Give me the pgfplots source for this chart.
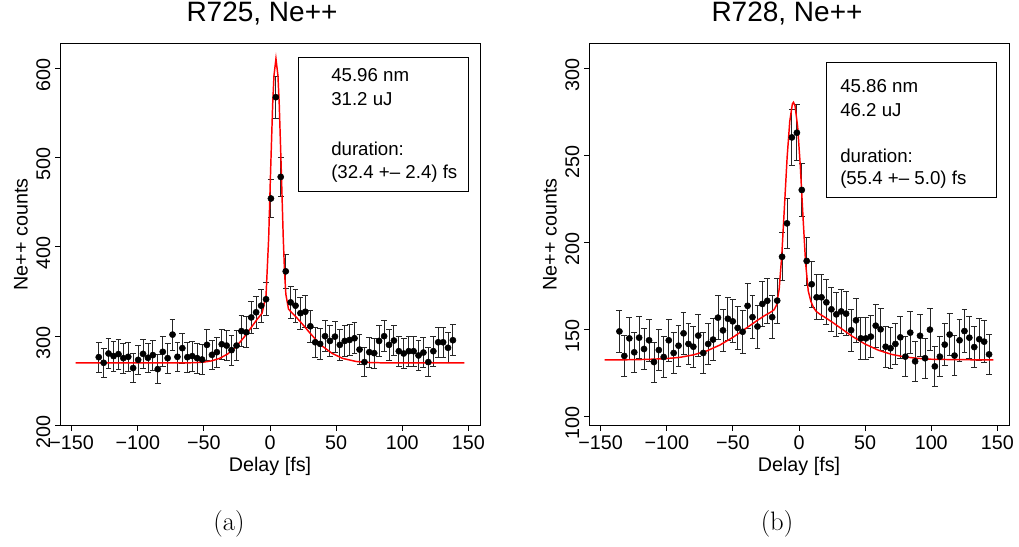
\documentclass[border=0pt]{standalone}
\usepackage{pgfplots}
\pgfplotsset{compat=1.18}
\usepackage{pgfplotstable}
\usepackage{fontspec}
\newfontfamily\hv{Liberation Sans}

\pgfplotstableread{
x y e
-129.5 276.3 16.6
-125.8 270.0 16.4
-122.1 280.4 16.7
-118.3 277.5 16.7
-114.6 279.7 16.7
-110.9 275.2 16.6
-107.2 276.7 16.6
-103.5 264.1 16.3
-99.7 273.3 16.5
-96.0 280.0 16.7
-92.3 275.6 16.6
-88.6 278.6 16.7
-84.9 262.9 16.2
-81.1 282.3 16.8
-77.4 275.2 16.6
-73.7 301.6 17.4
-70.0 276.7 16.6
-66.3 286.4 16.9
-62.5 276.3 16.6
-58.8 277.5 16.7
-55.1 275.2 16.6
-51.4 273.7 16.5
-47.7 290.1 17.0
-43.9 278.9 16.7
-40.2 281.9 16.8
-36.5 290.8 17.1
-32.8 289.3 17.0
-29.1 284.2 16.9
-25.3 289.3 17.0
-21.6 305.5 17.5
-17.9 304.2 17.4
-14.2 320.8 17.9
-10.5 326.6 18.1
-6.7 334.0 18.3
-3.0 341.2 18.5
0.7 454.1 21.3
4.4 567.6 23.8
8.1 478.3 21.9
11.9 372.5 19.3
15.6 337.7 18.4
19.3 334.0 18.3
23.0 325.6 18.0
26.7 327.2 18.1
30.5 310.9 17.6
34.2 293.0 17.1
37.9 291.2 17.1
41.6 299.8 17.3
45.3 294.5 17.2
49.1 299.3 17.3
52.8 290.1 17.0
56.5 294.5 17.2
60.2 295.6 17.2
63.9 297.5 17.2
67.7 284.8 16.9
71.4 270.8 16.5
75.1 281.9 16.8
78.8 280.8 16.8
82.5 294.5 17.2
86.3 299.8 17.3
90.0 290.1 17.0
93.7 294.9 17.2
97.4 283.0 16.8
101.1 280.4 16.7
104.9 283.0 16.8
108.6 283.0 16.8
112.3 278.2 16.7
116.0 281.5 16.8
119.7 270.8 16.5
123.5 283.0 16.8
127.2 293.0 17.1
130.9 293.0 17.1
134.6 286.8 16.9
138.3 295.3 17.2
}\leftdata

\pgfplotstableread{
x y
-147 269.8
-120 269.8
-100 269.8
-85 269.8
-75 269.8
-65 269.9
-57 270.1
-50 270.8
-44 272.2
-38 275.0
-32 279.9
-26 287.5
-20 297.9
-15 308.0
-10 318.2
-6 325.6
-3 345.4
-1 410.1
0.5 487.2
2 558.8
3 591.7
4.5 610.8
6 591.7
7 559.0
8.5 487.6
10 410.9
11 371.3
12 346.7
14 330.1
17 325.4
20 320.9
25 312.5
30 303.7
35 295.4
40 288.2
47 280.5
55 274.9
65 271.5
75 270.3
90 269.8
110 269.8
147 269.8
}\leftfit

\pgfplotstableread{
x y e
-135.8 148.8 12.2
-132.1 134.7 11.6
-128.3 144.8 12.0
-124.6 136.8 11.7
-120.9 145.2 12.0
-117.2 138.7 11.8
-113.4 143.7 12.0
-109.7 131.2 11.5
-106.0 138.1 11.8
-102.3 134.1 11.6
-98.5 143.7 12.0
-94.8 136.4 11.7
-91.1 140.6 11.9
-87.3 147.7 12.2
-83.6 141.6 11.9
-79.9 140.0 11.8
-76.2 146.4 12.1
-72.4 136.4 11.7
-68.7 141.6 11.9
-65.0 144.1 12.0
-61.3 156.7 12.5
-57.5 149.4 12.2
-53.8 156.1 12.5
-50.1 154.6 12.4
-46.4 150.8 12.3
-42.6 148.6 12.2
-38.9 163.5 12.8
-35.2 157.0 12.5
-31.4 151.6 12.3
-27.7 164.6 12.8
-24.0 166.4 12.9
-20.3 157.0 12.5
-16.5 166.5 12.9
-12.8 191.7 13.8
-9.1 210.9 14.5
-5.4 260.3 16.1
-1.6 263.0 16.2
2.1 230.1 15.2
5.8 189.3 13.8
9.6 175.9 13.3
13.3 168.4 13.0
17.0 168.4 13.0
20.7 165.5 12.9
24.5 161.5 12.7
28.2 158.6 12.6
31.9 160.3 12.7
35.6 159.0 12.6
39.4 149.5 12.2
43.1 155.2 12.5
46.8 144.8 12.0
50.6 144.8 12.0
54.3 145.8 12.1
58.0 152.1 12.3
61.7 150.0 12.2
65.5 140.0 11.8
69.2 139.1 11.8
72.9 141.6 11.9
76.6 145.4 12.1
80.4 134.3 11.6
84.1 148.1 12.2
87.8 131.6 11.5
91.5 146.3 12.1
95.3 133.4 11.5
99.0 149.8 12.2
102.7 128.7 11.3
106.5 134.3 11.6
110.2 141.2 11.9
113.9 147.0 12.1
117.6 134.9 11.6
121.4 143.7 12.0
125.1 149.0 12.2
128.8 145.2 12.0
132.5 139.8 11.8
136.3 144.3 12.0
140.0 142.9 12.0
143.7 135.6 11.6
}\rightdata

\pgfplotstableread{
x y
-147 132.5
-130 132.5
-115 132.7
-100 133.2
-90 133.9
-80 135.3
-70 137.5
-60 140.9
-50 145.4
-40 150.6
-32 154.9
-26 157.9
-22 159.6
-19 161.1
-17 163.9
-15 173.1
-13 192.9
-11 220.7
-9 248.7
-7 269.5
-5 279.6
-4.2 280.5
-3 278.5
-1 266.2
1 243.6
3 214.9
5 188.0
7 172.0
9 166.0
11 162.5
13 160.3
16 158.6
20 156.7
25 154.2
30 151.5
40 146.1
50 141.5
60 138.0
70 135.6
80 134.1
90 133.3
100 132.8
115 132.6
130 132.5
147 132.5
}\rightfit

\pgfplotsset{
  rstyle/.style={
    scale only axis, width=315pt, height=286.8pt,
    axis line style={line width=0.7pt},
    tick style={line width=0.7pt, black},
    tick align=outside, major tick length=3.75pt,
    xtick pos=bottom, ytick pos=left,
    xmin=-158.8, xmax=158.8,
    xtick={-150,-100,-50,0,50,100,150},
    xticklabels={−150,−100,−50,0,50,100,150},
    ticklabel style={font=\hv\fontsize{14.8}{17}\selectfont},
    yticklabel style={rotate=90, anchor=south, xshift=-5pt},
    /pgf/number format/assume math mode=true,
  },
  pts/.style={only marks, mark=*, mark size=2.3pt, black,
    error bars/.cd, y dir=both, y explicit,
    error bar style={line width=0.65pt, black!85},
    error mark options={rotate=90, mark size=2.2pt, line width=0.65pt, black!85}},
  fit/.style={red, line width=1.1pt, no marks},
}

\begin{document}
\begin{tikzpicture}
\useasboundingbox (0,0) rectangle (764.25pt,-409.5pt);

\begin{axis}[rstyle, at={(45pt,-319.275pt)}, anchor=south west,
  ymin=199.5, ymax=628, ytick={200,300,400,500,600}]
\addplot[pts] table[x=x,y=y,y error=e]{\leftdata};
\addplot[fit] table[x=x,y=y]{\leftfit};
\end{axis}

\begin{axis}[rstyle, at={(441.75pt,-319.275pt)}, anchor=south west,
  ymin=94.6, ymax=314.4, ytick={100,150,200,250,300}]
\addplot[pts] table[x=x,y=y,y error=e]{\rightdata};
\addplot[fit] table[x=x,y=y]{\rightfit};
\end{axis}

\begin{scope}[x=0.75pt,y=-0.75pt]
\node[font=\hv\fontsize{21}{25}\selectfont] at (262,14) {R725, Ne++};
\node[font=\hv\fontsize{21}{25}\selectfont] at (787,14) {R728, Ne++};
\node[font=\hv\fontsize{14.8}{17}\selectfont] at (270,466) {Delay [fs]};
\node[font=\hv\fontsize{14.8}{17}\selectfont] at (799,466) {Delay [fs]};
\node[font=\hv\fontsize{14.8}{17}\selectfont, rotate=90] at (21,234.5) {Ne++ counts};
\node[font=\hv\fontsize{14.8}{17}\selectfont, rotate=90] at (550,234.5) {Ne++ counts};

\draw[line width=0.7pt] (298,57) rectangle (468,191);
\begin{scope}[every node/.style={anchor=west, inner sep=0pt, font=\hv\fontsize{14}{17}\selectfont}]
\node at (331,75) {45.96 nm};
\node at (331,99.5) {31.2 uJ};
\node at (331,149) {duration:};
\node at (331,173.5) {(32.4 +– 2.4) fs};
\end{scope}

\draw[line width=0.7pt] (826.5,62) rectangle (996,197.5);
\begin{scope}[every node/.style={anchor=west, inner sep=0pt, font=\hv\fontsize{14}{17}\selectfont}]
\node at (840,86) {45.86 nm};
\node at (840,110.5) {46.2 uJ};
\node at (840,155.5) {duration:};
\node at (840,180) {(55.4 +– 5.0) fs};
\end{scope}

\node[font=\fontsize{20}{24}\selectfont] at (229,524) {(a)};
\node[font=\fontsize{20}{24}\selectfont] at (777,524) {(b)};
\end{scope}
\end{tikzpicture}
\end{document}
